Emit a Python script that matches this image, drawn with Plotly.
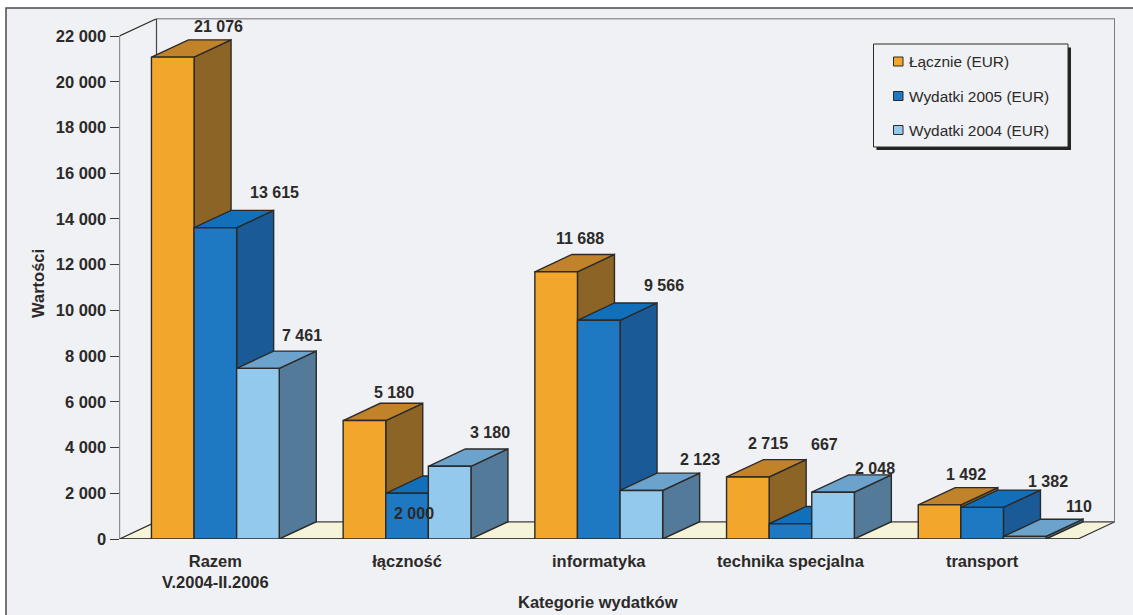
import plotly.graph_objects as go

# Expenditure data (EUR)
categories = ["Razem<br>V.2004-II.2006", "łączność", "informatyka", "technika specjalna", "transport"]
series_names = ["Łącznie (EUR)", "Wydatki 2005 (EUR)", "Wydatki 2004 (EUR)"]
lacznie = [21076, 5180, 11688, 2715, 1492]
wydatki_2005 = [13615, 2000, 9566, 667, 1382]
wydatki_2004 = [7461, 3180, 2123, 2048, 110]
y_ticks = list(range(0, 22001, 2000))

# Face colours for each series: front, side, top
FACES = [
    ("#f2a62b", "#8c6526", "#c0832a"),
    ("#1e79c2", "#195a97", "#1270ba"),
    ("#94c9ee", "#537a99", "#6ca3cd"),
]
INK = "#2b2a29"
PANEL = "#f0f1f4"
FLOOR = "#f5f3d8"
W, H = 1133, 615

# Pixel placement of the plot box; depth is the oblique offset of the 3D look
LEFT, RIGHT, TOP, BOTTOM = 119.5, 1115, 18.5, 539
PX_PER_CAT = 191.7
PX_PER_VAL = (539 - 36) / 22000
DEPTH_X = 37 / PX_PER_CAT
DEPTH_Y = 17.3 / PX_PER_VAL
BAR_W = 2 / 9
GROUP_GAP = 1 / 6
N = len(categories)

# Value label offsets from the top centre of each front face (pixels)
label_dx = [[46, 59, 44], [30, 7, 40], [24, 65, 59], [20, 34, 42], [26, 66, 54]]
label_dy = [[31, 35, 33], [28, -20, 34], [33, 35, 31], [33, 79, 24], [30, 26, 30]]


def poly(xs, ys, fill, line=INK, width=1.4):
    return go.Scatter(
        x=xs + xs[:1], y=ys + ys[:1], mode="lines", fill="toself", fillcolor=fill,
        line=dict(color=line, width=width), hoverinfo="skip", showlegend=False,
        cliponaxis=False,
    )


def edge(xs, ys, color=INK, width=1.3):
    return go.Scatter(
        x=xs, y=ys, mode="lines", line=dict(color=color, width=width),
        hoverinfo="skip", showlegend=False, cliponaxis=False,
    )


fig = go.Figure()

# Floor and walls behind the bars
far_x = N + DEPTH_X
ymax = y_ticks[-1]
fig.add_trace(poly([0, N, far_x, DEPTH_X], [0, 0, DEPTH_Y, DEPTH_Y], FLOOR, width=1.2))
fig.add_trace(edge([DEPTH_X, far_x], [DEPTH_Y, DEPTH_Y], "#6b6b6b", 1.5))
fig.add_trace(edge([DEPTH_X, DEPTH_X, far_x], [DEPTH_Y, ymax + DEPTH_Y, ymax + DEPTH_Y], "#444444", 1.2))
fig.add_trace(edge([far_x, far_x], [ymax + DEPTH_Y, DEPTH_Y], "#7b7b7b", 2))
fig.add_trace(edge([0, 0, DEPTH_X], [0, ymax, ymax + DEPTH_Y], INK, 1.2))
fig.add_trace(edge([0, N], [0, 0], INK, 1.6))

# Bars: painted left to right so each front hides the neighbour's side
annotations = []
all_series = [lacznie, wydatki_2005, wydatki_2004]
for c in range(N):
    for s, values in enumerate(all_series):
        v = values[c]
        x0 = c + GROUP_GAP + s * BAR_W
        x1 = x0 + BAR_W
        front, side, top = FACES[s]
        fig.add_trace(poly([x1, x1 + DEPTH_X, x1 + DEPTH_X, x1], [0, DEPTH_Y, v + DEPTH_Y, v], side))
        fig.add_trace(poly([x0, x1, x1 + DEPTH_X, x0 + DEPTH_X], [v, v, v + DEPTH_Y, v + DEPTH_Y], top))
        fig.add_trace(poly([x0, x1, x1, x0], [0, 0, v, v], front))
        annotations.append(dict(
            x=(x0 + x1) / 2, y=v, xref="x", yref="y", xshift=label_dx[c][s], yshift=label_dy[c][s],
            text=f"{v:,}".replace(",", " "), showarrow=False, xanchor="center", yanchor="middle",
            font=dict(family="Liberation Sans", size=16, color=INK, weight="bold"),
        ))

# Axis titles
title_font = dict(family="Liberation Sans", size=16.5, color=INK, weight="bold")
annotations.append(dict(x=598 / W, y=1 - 602 / H, xref="paper", yref="paper", text="Kategorie wydatków",
                        showarrow=False, font=title_font, xanchor="center", yanchor="middle"))
annotations.append(dict(x=38 / W, y=1 - 284 / H, xref="paper", yref="paper", text="Wartości", textangle=-90,
                        showarrow=False, font=title_font, xanchor="center", yanchor="middle"))


def px_rect(x0, y0, x1, y1, **kw):
    return dict(type="rect", xref="paper", yref="paper", x0=x0 / W, x1=x1 / W,
                y0=1 - y0 / H, y1=1 - y1 / H, **kw)


# Outer panel and the legend box with its drop shadow
shapes = [
    px_rect(6, 8, W + 4, H + 4, fillcolor=PANEL, line=dict(color="#4a4a4a", width=1.5), layer="below"),
    px_rect(876.5, 47.5, 1071, 150, fillcolor="#222222", line=dict(width=0)),
    px_rect(873.5, 44, 1068, 147, fillcolor=PANEL, line=dict(color=INK, width=1)),
]
legend_rows = [61.5, 96, 130]
for s, name in enumerate(series_names):
    yc = legend_rows[s]
    shapes.append(px_rect(893.5, yc - 4.5, 903, yc + 4.5, fillcolor=FACES[s][0], line=dict(color=INK, width=1)))
    annotations.append(dict(x=907 / W, y=1 - yc / H, xref="paper", yref="paper", text=name, showarrow=False,
                            xanchor="left", yanchor="middle",
                            font=dict(family="Liberation Sans", size=15.4, color=INK)))

fig.update_layout(
    width=W, height=H, autosize=False, margin=dict(l=0, r=0, t=0, b=0),
    paper_bgcolor="white", plot_bgcolor="rgba(0,0,0,0)", showlegend=False,
    annotations=annotations, shapes=shapes,
    xaxis=dict(
        domain=[LEFT / W, RIGHT / W], range=[0, far_x], automargin=False,
        tickmode="array", tickvals=[i + 0.5 for i in range(N)], ticktext=categories,
        ticks="", showgrid=False, zeroline=False, showline=False, ticklabelstandoff=10,
        tickangle=0,
        tickfont=dict(family="Liberation Sans", size=16.5, color=INK, weight="bold"),
    ),
    yaxis=dict(
        domain=[1 - BOTTOM / H, 1 - TOP / H], range=[0, (BOTTOM - TOP) / PX_PER_VAL], automargin=False,
        tickmode="array", tickvals=y_ticks, ticktext=[f"{t:,}".replace(",", " ") for t in y_ticks],
        ticks="outside", ticklen=9, tickwidth=1.2, tickcolor="#3a3a3a",
        showgrid=False, zeroline=False, showline=False,
        tickfont=dict(family="Liberation Sans", size=16.5, color=INK, weight="bold"),
    ),
)
fig.write_html("out.html")
